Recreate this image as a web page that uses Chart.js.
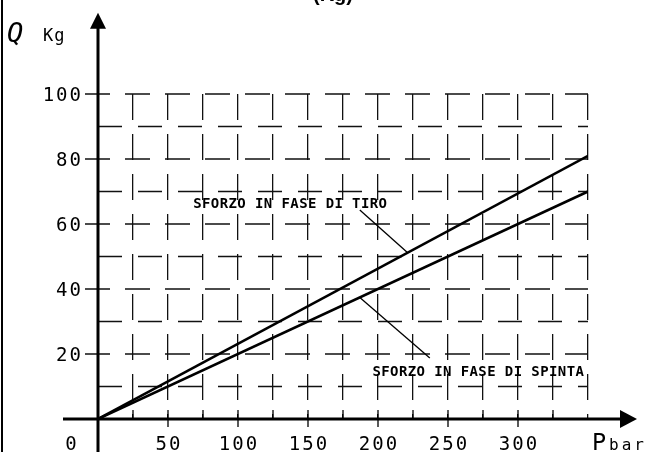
<!DOCTYPE html>
<html>
<head>
<meta charset="utf-8">
<script src="https://cdn.jsdelivr.net/npm/chart.js@4.4.1/dist/chart.umd.min.js"></script>
<style>
  html, body { margin: 0; padding: 0; background: #fff; }
  #wrap { width: 648px; height: 452px; }
</style>
</head>
<body>
<div id="wrap"><canvas id="forceChart" width="648" height="452"></canvas></div>
<script>
// pressione (bar) -> forza (Kg)
const pressure = [0, 350];
const forceTiro = [0, 81];
const forceSpinta = [0, 70];
const xTickLabels = [50, 100, 150, 200, 250, 300];
const yTickLabels = [20, 40, 60, 80, 100];
const labelTiro = 'SFORZO IN FASE DI TIRO';
const labelSpinta = 'SFORZO IN FASE DI SPINTA';
// richiami (bar, Kg): dal testo alla retta
const leaderTiroP = [187, 221];
const leaderTiroQ = [64.3, 51.2];
const leaderSpintaP = [187, 237];
const leaderSpintaQ = [37.4, 18.8];
const textTiroAt = [68, 65];
const textSpintaAt = [196, 13.2];

const toPoints = (xs, ys) => xs.map((x, i) => ({ x: x, y: ys[i] }));

// righe orizzontali tratteggiate (le righe con etichetta partono prima dell'asse)
const hGridPlugin = {
    id: 'hGrid',
    beforeDatasetsDraw(chart) {
        const ctx = chart.ctx;
        const xs = chart.scales.x;
        const ys = chart.scales.y;
        const ox = xs.getPixelForValue(0);
        const right = chart.chartArea.right;
        ctx.save();
        ctx.strokeStyle = '#111';
        ctx.lineWidth = 1.3;
        ys.ticks.forEach(t => {
            if (t.value <= 0) return;
            const py = ys.getPixelForValue(t.value);
            const labelled = t.value % 20 === 0;
            ctx.setLineDash(labelled ? [25, 15] : [24, 16]);
            ctx.beginPath();
            ctx.moveTo(labelled ? ox - 13 : ox, py);
            ctx.lineTo(right, py);
            ctx.stroke();
        });
        ctx.restore();
    }
};

// assi con frecce, tacche, etichette e scritte
const drawingPlugin = {
    id: 'drawing',
    afterDraw(chart) {
        const ctx = chart.ctx;
        const xs = chart.scales.x;
        const ys = chart.scales.y;
        const ox = xs.getPixelForValue(0);
        const oy = ys.getPixelForValue(0);
        const xEnd = xs.getPixelForValue(385);
        const yEnd = ys.getPixelForValue(125);
        ctx.save();
        ctx.strokeStyle = '#000';
        ctx.fillStyle = '#000';

        // bordo sinistro
        ctx.lineWidth = 2;
        ctx.beginPath();
        ctx.moveTo(2, 0);
        ctx.lineTo(2, chart.height);
        ctx.stroke();

        // assi
        ctx.lineWidth = 3;
        ctx.beginPath();
        ctx.moveTo(xs.getPixelForValue(-25), oy);
        ctx.lineTo(xEnd - 14, oy);
        ctx.moveTo(ox, chart.height);
        ctx.lineTo(ox, yEnd + 14);
        ctx.stroke();
        ctx.beginPath();
        ctx.moveTo(xEnd, oy);
        ctx.lineTo(xEnd - 17, oy - 9);
        ctx.lineTo(xEnd - 17, oy + 9);
        ctx.closePath();
        ctx.fill();
        ctx.beginPath();
        ctx.moveTo(ox, yEnd);
        ctx.lineTo(ox - 8, yEnd + 16);
        ctx.lineTo(ox + 8, yEnd + 16);
        ctx.closePath();
        ctx.fill();

        // tacche asse x
        ctx.lineWidth = 1.3;
        ctx.beginPath();
        xs.ticks.forEach(t => {
            if (t.value <= 0 || t.value >= 350) return;
            const px = xs.getPixelForValue(t.value);
            ctx.moveTo(px, oy - 9);
            ctx.lineTo(px, t.value % 50 === 0 ? oy + 8 : oy);
        });
        ctx.stroke();

        // etichette
        ctx.font = '19px "DejaVu Sans Mono"';
        ctx.letterSpacing = '2px';
        ctx.textAlign = 'right';
        ctx.textBaseline = 'alphabetic';
        yTickLabels.forEach(v => {
            ctx.fillText(String(v), ox - 15, ys.getPixelForValue(v) + 7);
        });
        ctx.textAlign = 'center';
        xTickLabels.forEach(v => {
            ctx.fillText(String(v), xs.getPixelForValue(v) + 1, chart.height - 2);
        });
        ctx.fillText('0', ox - 26, chart.height - 2);

        // titoli assi
        ctx.textAlign = 'left';
        ctx.letterSpacing = '0px';
        ctx.font = 'oblique 27px "DejaVu Sans Mono"';
        ctx.fillText('Q', 7, 42);
        ctx.font = '17px "DejaVu Sans Mono"';
        ctx.letterSpacing = '1px';
        ctx.fillText('Kg', 43, 41);
        ctx.letterSpacing = '0px';
        ctx.font = '23px "DejaVu Sans"';
        ctx.fillText('P', 592, chart.height - 2);
        ctx.font = '16px "DejaVu Sans Mono"';
        ctx.letterSpacing = '3px';
        ctx.fillText('bar', 609, chart.height - 2);

        ctx.letterSpacing = '0px';
        ctx.font = 'bold 20px "Liberation Sans"';
        ctx.textAlign = 'center';
        ctx.fillText('(Kg)', 333, 1);

        // scritte sulle rette
        ctx.textAlign = 'left';
        ctx.font = 'bold 14px "DejaVu Sans Mono"';
        ctx.letterSpacing = '0.4px';
        ctx.fillText(labelTiro, xs.getPixelForValue(textTiroAt[0]), ys.getPixelForValue(textTiroAt[1]));
        ctx.fillText(labelSpinta, xs.getPixelForValue(textSpintaAt[0]), ys.getPixelForValue(textSpintaAt[1]));
        ctx.restore();
    }
};

const el = document.getElementById('forceChart');
new Chart(el.getContext('2d'), {
    type: 'scatter',
    data: {
        datasets: [{
            label: 'Tiro',
            data: toPoints(pressure, forceTiro),
            showLine: true,
            borderColor: '#000',
            borderWidth: 2.5,
            pointRadius: 0
        }, {
            label: 'Spinta',
            data: toPoints(pressure, forceSpinta),
            showLine: true,
            borderColor: '#000',
            borderWidth: 2.5,
            pointRadius: 0
        }, {
            label: 'Richiamo tiro',
            data: toPoints(leaderTiroP, leaderTiroQ),
            showLine: true,
            borderColor: '#000',
            borderWidth: 1.3,
            pointRadius: 0
        }, {
            label: 'Richiamo spinta',
            data: toPoints(leaderSpintaP, leaderSpintaQ),
            showLine: true,
            borderColor: '#000',
            borderWidth: 1.3,
            pointRadius: 0
        }]
    },
    options: {
        responsive: false,
        animation: false,
        layout: {
            padding: { left: 98, right: 60, top: 94, bottom: 33 }
        },
        scales: {
            x: {
                type: 'linear',
                min: 0,
                max: 350,
                ticks: { display: false, stepSize: 25 },
                grid: { color: '#111', lineWidth: 1.3, drawTicks: false },
                border: { display: false, dash: [26, 14], dashOffset: 0 }
            },
            y: {
                type: 'linear',
                min: 0,
                max: 100,
                ticks: { display: false, stepSize: 10 },
                grid: { display: false, drawTicks: false },
                border: { display: false }
            }
        },
        plugins: {
            legend: { display: false },
            tooltip: { enabled: false }
        }
    },
    plugins: [hGridPlugin, drawingPlugin]
});
</script>
</body>
</html>
